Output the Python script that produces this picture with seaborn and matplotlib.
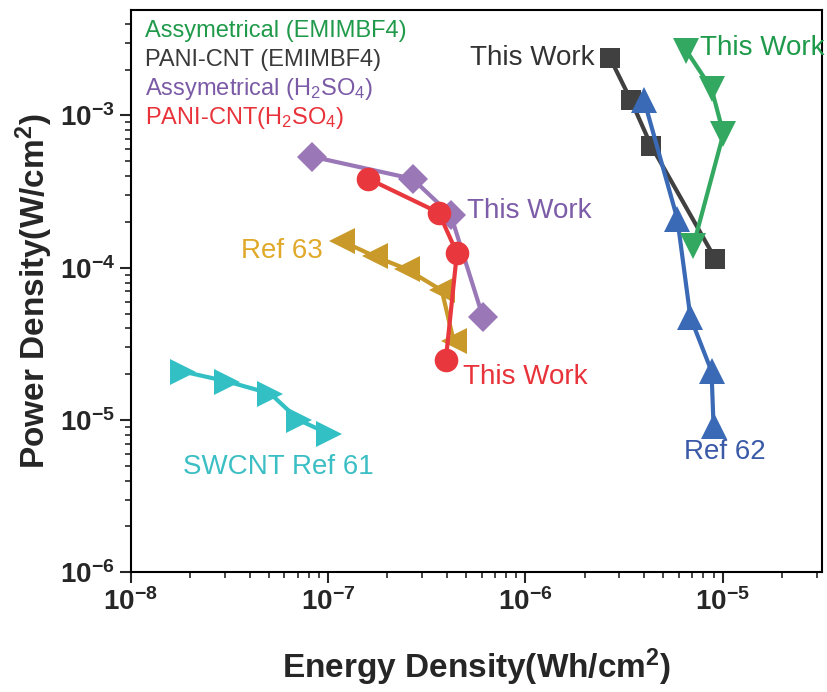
import pandas as pd
import seaborn as sns
import matplotlib.pyplot as plt
import numpy as np

sns.set_style("white")
plt.rcParams['font.family'] = ['Liberation Sans', 'DejaVu Sans']
plt.rcParams['mathtext.fontset'] = 'custom'
plt.rcParams['mathtext.rm'] = 'Liberation Sans'
plt.rcParams['mathtext.bf'] = 'Liberation Sans:bold'
plt.rcParams['mathtext.default'] = 'regular'

# Energy density (Wh/cm2) and power density (W/cm2) for each device
pani_emim_E = [2.69e-6, 3.43e-6, 4.34e-6, 9.2e-6]
pani_emim_P = [2.38e-3, 1.26e-3, 6.35e-4, 1.14e-4]

asym_emim_E = [6.55e-6, 8.79e-6, 1.01e-5, 7.1e-6]
asym_emim_P = [2.67e-3, 1.50e-3, 7.6e-4, 1.39e-4]

ref62_E = [4.0e-6, 5.9e-6, 6.87e-6, 8.79e-6, 9.0e-6]
ref62_P = [1.26e-3, 2.09e-4, 4.73e-5, 2.09e-5, 9.2e-6]

asym_h2so4_E = [8.28e-8, 2.68e-7, 4.19e-7, 6.1e-7]
asym_h2so4_P = [5.37e-4, 3.84e-4, 2.22e-4, 4.73e-5]

pani_h2so4_E = [1.6e-7, 3.64e-7, 4.5e-7, 3.95e-7]
pani_h2so4_P = [3.84e-4, 2.3e-4, 1.25e-4, 2.46e-5]

ref63_E = [1.17e-7, 1.72e-7, 2.5e-7, 3.77e-7, 4.34e-7]
ref63_P = [1.5e-4, 1.19e-4, 9.8e-5, 7.1e-5, 3.29e-5]

ref61_E = [1.84e-8, 3.09e-8, 5.1e-8, 7.1e-8, 1.01e-7]
ref61_P = [2.08e-5, 1.79e-5, 1.49e-5, 1.0e-5, 8.1e-6]

fig = plt.figure(figsize=(8.28, 6.92), dpi=100)
ax = fig.add_axes([0.158, 0.173, 0.835, 0.812])

series = [
    (ref61_E, ref61_P, '>', '#33c0c4', 19),
    (ref63_E, ref63_P, '<', '#c99a2a', 19),
    (asym_h2so4_E, asym_h2so4_P, 'D', '#9a78b8', 15),
    (pani_h2so4_E, pani_h2so4_P, 'o', '#e8383d', 17),
    (pani_emim_E, pani_emim_P, 's', '#404040', 14),
    (ref62_E, ref62_P, '^', '#3a6ab5', 19),
    (asym_emim_E, asym_emim_P, 'v', '#33a860', 19),
]
for E, P, mk, col, ms in series:
    df = pd.DataFrame({'E': E, 'P': P})
    sns.lineplot(data=df, x='E', y='P', sort=False, marker=mk, color=col,
                 lw=3, markersize=ms, markeredgewidth=0, ax=ax)

ax.set_xscale('log')
ax.set_yscale('log')
ax.set_xlim(1e-8, 3.2e-5)
ax.set_ylim(1e-6, 4.9e-3)

for s in ax.spines.values():
    s.set_color('black')
    s.set_linewidth(1.5)
ax.tick_params(which='major', direction='out', length=8, width=1.5,
               bottom=True, left=True)
ax.tick_params(which='minor', direction='out', length=4, width=1.2,
               bottom=True, left=True)
ax.set_xticks([1e-8, 1e-7, 1e-6, 1e-5])
ax.set_xticklabels([r'$\mathbf{10^{-8}}$', r'$\mathbf{10^{-7}}$',
                    r'$\mathbf{10^{-6}}$', r'$\mathbf{10^{-5}}$'], fontsize=20)
ax.set_yticks([1e-6, 1e-5, 1e-4, 1e-3])
ax.set_yticklabels([r'$\mathbf{10^{-6}}$', r'$\mathbf{10^{-5}}$',
                    r'$\mathbf{10^{-4}}$', r'$\mathbf{10^{-3}}$'], fontsize=20)

ax.set_xlabel(r'Energy Density(Wh/cm$^{\mathbf{2}}$)', fontsize=24,
              fontweight='bold', labelpad=22)
ax.set_ylabel(r'Power Density(W/cm$^{\mathbf{2}}$)', fontsize=24,
              fontweight='bold', labelpad=3)

# legend-like coloured labels
legend_items = [
    ('Assymetrical (EMIMBF4)', '#1f9a4a'),
    ('PANI-CNT (EMIMBF4)', '#3a3a3a'),
    (r'Assymetrical (H$_2$SO$_4$)', '#7b5aa6'),
    (r'PANI-CNT(H$_2$SO$_4$)', '#e8333a'),
]
for i, (txt, col) in enumerate(legend_items):
    ax.text(0.02, 0.964 - i * 0.052, txt, color=col, fontsize=17,
            transform=ax.transAxes, ha='left', va='center')

# annotations near the curves
ax.text(2.25e-6, 2.38e-3, 'This Work', color='#333333', fontsize=20, ha='right', va='center')
ax.text(7.7e-6, 2.77e-3, 'This Work', color='#1e9a4a', fontsize=20, ha='left', va='center')
ax.text(5.06e-7, 2.36e-4, 'This Work', color='#7d5ca8', fontsize=20, ha='left', va='center')
ax.text(4.83e-7, 1.93e-5, 'This Work', color='#e8333a', fontsize=20, ha='left', va='center')
ax.text(1.03e-5, 6.2e-6, 'Ref 62', color='#3a5aa8', fontsize=20, ha='center', va='center')
ax.text(9.4e-8, 1.29e-4, 'Ref 63', color='#e0a92a', fontsize=20, ha='right', va='center')
ax.text(1.84e-8, 4.93e-6, 'SWCNT Ref 61', color='#3cbfc4', fontsize=20, ha='left', va='center')

plt.savefig('out.png', dpi=100)
